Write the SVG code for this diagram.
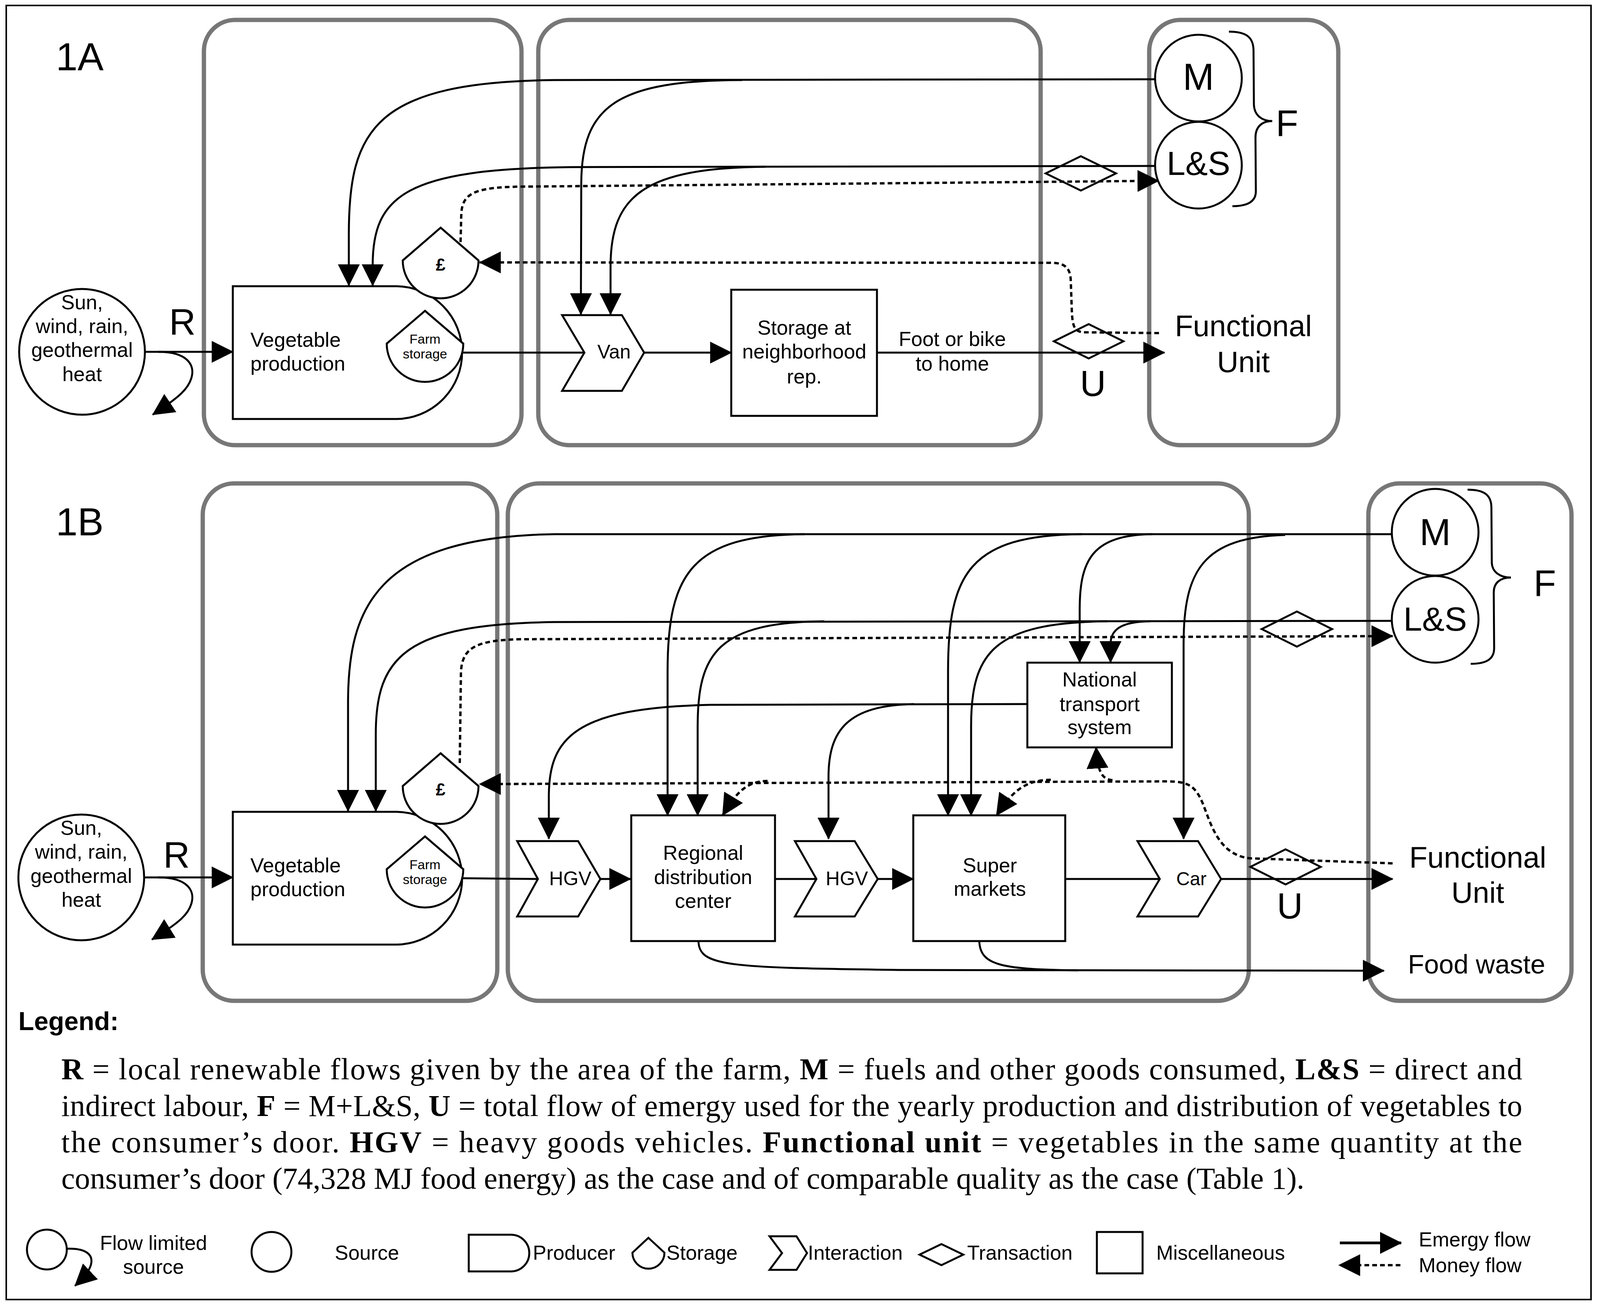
<svg xmlns="http://www.w3.org/2000/svg" width="4098" height="3342" viewBox="0 0 4098 3342">
<defs>
<style>
.bg{fill:#fff}
.frame{fill:none;stroke:#000;stroke-width:4}
.box{fill:none;stroke:#777;stroke-width:11}
.n{fill:#fff;stroke:#000;stroke-width:5;stroke-linejoin:miter}
.d{fill:none;stroke:#000;stroke-width:5}
.fl{fill:none;stroke:#000;stroke-width:5}
.mf{fill:none;stroke:#000;stroke-width:6;stroke-dasharray:12 8}
.t{font-family:"Liberation Sans",Arial,Helvetica,sans-serif;fill:#000}
.s52{font-size:52px}
.s34{font-size:34px}
.big{font-size:96px}
.fu{font-size:76px}
.c{text-anchor:middle}
.ser{font-family:"Liberation Serif","Times New Roman",serif;font-size:78px;fill:#000}
.b{font-weight:bold}
</style>
<marker id="ah" markerUnits="userSpaceOnUse" markerWidth="56" markerHeight="56" viewBox="0 0 56 56" refX="54" refY="28" orient="auto">
<path d="M0,0 L56,28 L0,56 Z" fill="#000"/>
</marker>
</defs>
<rect class="bg" x="0" y="0" width="4098" height="3342"/>
<rect class="frame" x="16" y="14" width="4057" height="3314"/>

<!-- ===== 1A ===== -->
<text class="t" x="143" y="180" font-size="100">1A</text>
<g id="boxA1"><rect class="box" x="522" y="51" width="813" height="1089" rx="80"/></g>
<g id="boxA2"><rect class="box" x="1378" y="51" width="1286" height="1089" rx="80"/></g>
<g id="boxA3"><rect class="box" x="2942" y="51" width="484" height="1089" rx="80"/></g>

<g id="connectorsA">
<path class="fl" d="M371,901 L596,901" marker-end="url(#ah)"/>
<path class="fl" d="M405,901 C480,901 500,935 490,968 C482,995 462,1015 391,1062" marker-end="url(#ah)"/>
<path class="fl" d="M2957,203 L1420,205 C960,210 893,330 893,600 L893,731" marker-end="url(#ah)"/>
<path class="fl" d="M2957,425 L1460,428 C1040,433 954,500 954,680 L954,731" marker-end="url(#ah)"/>
<path class="fl" d="M1900,205 C1580,206 1489,270 1488,470 L1487,805" marker-end="url(#ah)"/>
<path class="fl" d="M1960,427 C1650,430 1564,500 1563,680 L1563,805" marker-end="url(#ah)"/>
<path class="fl" d="M1183,903 L1496,903"/>
<path class="fl" d="M1649,903 L1872,903" marker-end="url(#ah)"/>
<path class="fl" d="M2245,903 L2981,903" marker-end="url(#ah)"/>
<path class="mf" d="M1179,620 L1181,545 C1185,495 1215,480 1330,478 L2966,463" marker-end="url(#ah)"/>
<path class="mf" d="M2967,853 L2775,851 C2750,850 2746,835 2744,800 L2741,715 C2739,685 2725,673 2690,673 L1228,672" marker-end="url(#ah)"/>
<path class="fl" d="M3146,81 C3190,81 3209,95 3209,130 L3210,268 C3211,295 3230,310 3257,310 C3230,310 3214,325 3214,352 L3215,490 C3215,515 3195,528 3155,528"/>
</g>

<g id="sunA">
<circle class="n" cx="210" cy="901" r="161"/>
<text class="t s52 c" x="210" y="792">Sun,</text>
<text class="t s52 c" x="210" y="853">wind, rain,</text>
<text class="t s52 c" x="210" y="914">geothermal</text>
<text class="t s52 c" x="210" y="976">heat</text>
</g>
<text class="t" x="433" y="857" font-size="94">R</text>
<g id="vegA">
<path class="n" d="M596,733 L1013,733 A170,170 0 0 1 1013,1073 L596,1073 Z"/>
<text class="t s52" x="641" y="888">Vegetable</text>
<text class="t s52" x="641" y="949">production</text>
</g>
<g id="farmstorageA">
<path class="n" d="M1088,796 L1186,880 A98,98 0 0 1 990,880 Z"/>
<text class="t s34 c" x="1088" y="880">Farm</text>
<text class="t s34 c" x="1088" y="918">storage</text>
</g>
<g id="moneyA">
<path class="n" d="M1128,583 L1225,667 A97,97 0 0 1 1031,667 Z"/>
<text class="t c b" x="1128" y="693" font-size="44">£</text>
</g>
<g id="vanA">
<path class="n" d="M1439,807 L1592,807 L1649,903 L1592,1001 L1439,1001 L1496,903 Z"/>
<text class="t c" x="1572" y="918" font-size="50">Van</text>
</g>
<g id="storageRepA">
<rect class="n" x="1872" y="742" width="373" height="323"/>
<text class="t s52 c" x="2059" y="857">Storage at</text>
<text class="t s52 c" x="2059" y="918">neighborhood</text>
<text class="t s52 c" x="2059" y="982">rep.</text>
</g>
<text class="t s52 c" x="2438" y="886">Foot or bike</text>
<text class="t s52 c" x="2438" y="949">to home</text>
<g id="transLSA"><path class="d" d="M2677,444 L2767,400 L2857,444 L2767,488 Z"/></g>
<g id="transUA"><path class="d" d="M2698,874 L2787,830 L2876,874 L2787,918 Z"/></g>
<text class="t c" x="2798" y="1014" font-size="92">U</text>
<g id="MA">
<circle class="n" cx="3068" cy="200" r="111"/>
<text class="t big c" x="3068" y="230">M</text>
</g>
<g id="LSA">
<circle class="n" cx="3068" cy="423" r="111"/>
<text class="t c" x="3068" y="448" font-size="86">L&amp;S</text>
</g>
<text class="t" x="3266" y="348" font-size="94">F</text>
<g id="fuA">
<text class="t fu c" x="3183" y="861">Functional</text>
<text class="t fu c" x="3183" y="953">Unit</text>
</g>

<!-- ===== 1B ===== -->
<text class="t" x="143" y="1371" font-size="100">1B</text>
<g id="boxB1"><rect class="box" x="519" y="1238" width="754" height="1325" rx="80"/></g>
<g id="boxB2"><rect class="box" x="1300" y="1238" width="1897" height="1325" rx="80"/></g>
<g id="boxB3"><rect class="box" x="3503" y="1238" width="520" height="1325" rx="80"/></g>

<g id="connectorsB">
<path class="fl" d="M369,2247 L596,2247" marker-end="url(#ah)"/>
<path class="fl" d="M405,2247 C480,2247 500,2281 490,2314 C482,2341 462,2361 389,2406" marker-end="url(#ah)"/>
<path class="fl" d="M3563,1368 L1420,1368 C960,1375 891,1560 891,1800 L891,2077" marker-end="url(#ah)"/>
<path class="fl" d="M3563,1590 L1420,1593 C1040,1598 962,1680 962,1880 L962,2077" marker-end="url(#ah)"/>
<path class="fl" d="M2060,1368 C1770,1370 1709,1470 1709,1720 L1709,2088" marker-end="url(#ah)"/>
<path class="fl" d="M2110,1591 C1840,1594 1786,1670 1786,1860 L1786,2088" marker-end="url(#ah)"/>
<path class="fl" d="M2770,1368 C2480,1370 2427,1470 2427,1720 L2427,2088" marker-end="url(#ah)"/>
<path class="fl" d="M2835,1591 C2545,1594 2486,1670 2486,1860 L2486,2088" marker-end="url(#ah)"/>
<path class="fl" d="M2950,1368 C2800,1370 2764,1430 2764,1560 L2764,1696" marker-end="url(#ah)"/>
<path class="fl" d="M2945,1591 C2870,1592 2843,1612 2843,1650 L2843,1696" marker-end="url(#ah)"/>
<path class="fl" d="M3290,1370 C3080,1376 3030,1460 3030,1650 L3030,2148" marker-end="url(#ah)"/>
<path class="fl" d="M2630,1803 L1820,1805 C1470,1812 1405,1890 1405,2040 L1405,2148" marker-end="url(#ah)"/>
<path class="fl" d="M2340,1803 C2170,1806 2121,1870 2121,1990 L2121,2148" marker-end="url(#ah)"/>
<path class="fl" d="M1183,2249 L1377,2251"/>
<path class="fl" d="M1537,2251 L1614,2251" marker-end="url(#ah)"/>
<path class="fl" d="M1984,2251 L2090,2251"/>
<path class="fl" d="M2247,2251 L2338,2251" marker-end="url(#ah)"/>
<path class="fl" d="M2727,2251 L2969,2251"/>
<path class="fl" d="M3126,2251 L3565,2251" marker-end="url(#ah)"/>
<path class="fl" d="M1788,2410 C1790,2475 1860,2478 2300,2484 L3543,2486" marker-end="url(#ah)"/>
<path class="fl" d="M2507,2410 C2509,2475 2570,2482 2760,2485"/>
<path class="mf" d="M1177,1954 L1180,1720 C1184,1660 1215,1640 1330,1637 L3565,1629" marker-end="url(#ah)"/>
<path class="mf" d="M3565,2211 L3200,2198 C3120,2190 3100,2110 3080,2060 C3060,2010 3040,2002 2990,2001 L1228,2008" marker-end="url(#ah)"/>
<path class="mf" d="M1965,2000 C1910,2001 1885,2030 1850,2088" marker-end="url(#ah)"/>
<path class="mf" d="M2690,1997 C2620,1998 2590,2030 2551,2088" marker-end="url(#ah)"/>
<path class="mf" d="M2848,1998 C2820,1996 2810,1975 2806,1914" marker-end="url(#ah)"/>
<path class="fl" d="M3757,1254 C3800,1254 3818,1268 3818,1300 L3819,1441 C3820,1465 3840,1479 3868,1479 C3840,1479 3824,1493 3824,1517 L3825,1660 C3825,1688 3805,1700 3765,1700"/>
</g>

<g id="sunB">
<circle class="n" cx="208" cy="2247" r="161"/>
<text class="t s52 c" x="208" y="2138">Sun,</text>
<text class="t s52 c" x="208" y="2199">wind, rain,</text>
<text class="t s52 c" x="208" y="2261">geothermal</text>
<text class="t s52 c" x="208" y="2322">heat</text>
</g>
<text class="t" x="418" y="2222" font-size="94">R</text>
<g id="vegB">
<path class="n" d="M596,2079 L1013,2079 A170,170 0 0 1 1013,2419 L596,2419 Z"/>
<text class="t s52" x="641" y="2234">Vegetable</text>
<text class="t s52" x="641" y="2295">production</text>
</g>
<g id="farmstorageB">
<path class="n" d="M1088,2142 L1186,2226 A98,98 0 0 1 990,2226 Z"/>
<text class="t s34 c" x="1088" y="2226">Farm</text>
<text class="t s34 c" x="1088" y="2264">storage</text>
</g>
<g id="moneyB">
<path class="n" d="M1128,1929 L1225,2013 A97,97 0 0 1 1031,2013 Z"/>
<text class="t c b" x="1128" y="2037" font-size="44">£</text>
</g>
<g id="hgv1B">
<path class="n" d="M1324,2154 L1480,2154 L1537,2251 L1480,2347 L1324,2347 L1377,2251 Z"/>
<text class="t c" x="1460" y="2267" font-size="50">HGV</text>
</g>
<g id="regionalB">
<rect class="n" x="1616" y="2088" width="368" height="322"/>
<text class="t s52 c" x="1800" y="2202">Regional</text>
<text class="t s52 c" x="1800" y="2264">distribution</text>
<text class="t s52 c" x="1800" y="2325">center</text>
</g>
<g id="hgv2B">
<path class="n" d="M2035,2154 L2188,2154 L2247,2251 L2188,2347 L2035,2347 L2090,2251 Z"/>
<text class="t c" x="2168" y="2267" font-size="50">HGV</text>
</g>
<g id="superB">
<rect class="n" x="2338" y="2088" width="389" height="322"/>
<text class="t s52 c" x="2534" y="2234">Super</text>
<text class="t s52 c" x="2534" y="2294">markets</text>
</g>
<g id="ntsB">
<rect class="n" x="2630" y="1697" width="370" height="217"/>
<text class="t s52 c" x="2815" y="1758">National</text>
<text class="t s52 c" x="2815" y="1821">transport</text>
<text class="t s52 c" x="2815" y="1880">system</text>
</g>
<g id="carB">
<path class="n" d="M2912,2154 L3067,2154 L3126,2251 L3067,2347 L2912,2347 L2969,2251 Z"/>
<text class="t c" x="3050" y="2267" font-size="48">Car</text>
</g>
<g id="transLSB"><path class="d" d="M3230,1611 L3320,1566 L3410,1611 L3320,1656 Z"/></g>
<g id="transUB"><path class="d" d="M3201,2220 L3291,2175 L3381,2220 L3291,2265 Z"/></g>
<text class="t c" x="3302" y="2352" font-size="92">U</text>
<g id="MB">
<circle class="n" cx="3674" cy="1363" r="111"/>
<text class="t big c" x="3674" y="1396">M</text>
</g>
<g id="LSB">
<circle class="n" cx="3674" cy="1586" r="111"/>
<text class="t c" x="3674" y="1615" font-size="86">L&amp;S</text>
</g>
<text class="t" x="3926" y="1526" font-size="94">F</text>
<g id="fuB">
<text class="t fu c" x="3783" y="2222">Functional</text>
<text class="t fu c" x="3783" y="2312">Unit</text>
<text class="t c" x="3780" y="2493" font-size="68">Food waste</text>
</g>

<!-- ===== Legend ===== -->
<g id="legendText">
<text class="t b" x="47" y="2638" font-size="66">Legend:</text>
<text class="ser" x="157" y="2764" textLength="3740" lengthAdjust="spacing"><tspan class="b">R</tspan> = local renewable flows given by the area of the farm, <tspan class="b">M</tspan> = fuels and other goods consumed, <tspan class="b">L&amp;S</tspan> = direct and</text>
<text class="ser" x="157" y="2858" textLength="3740" lengthAdjust="spacing">indirect labour, <tspan class="b">F</tspan> = M+L&amp;S, <tspan class="b">U</tspan> = total flow of emergy used for the yearly production and distribution of vegetables to</text>
<text class="ser" x="157" y="2951" textLength="3740" lengthAdjust="spacing">the consumer’s door. <tspan class="b">HGV</tspan> = heavy goods vehicles. <tspan class="b">Functional unit</tspan> = vegetables in the same quantity at the</text>
<text class="ser" x="157" y="3044">consumer’s door (74,328 MJ food energy) as the case and of comparable quality as the case (Table 1).</text>
</g>

<g id="legendSymbols">
<g id="lgFlowLimited">
<circle class="n" cx="120" cy="3200" r="51"/>
<path class="fl" d="M170,3198 C215,3196 236,3210 234,3232 C233,3245 225,3262 192,3293" marker-end="url(#ah)"/>
<text class="t s52 c" x="393" y="3201">Flow limited</text>
<text class="t s52 c" x="393" y="3262">source</text>
</g>
<g id="lgSource">
<circle class="n" cx="695" cy="3206" r="51"/>
<text class="t s52" x="857" y="3226">Source</text>
</g>
<g id="lgProducer">
<path class="n" d="M1200,3162 L1308,3162 A47,47 0 0 1 1308,3256 L1200,3256 Z"/>
<text class="t s52" x="1364" y="3226">Producer</text>
</g>
<g id="lgStorage">
<path class="n" d="M1660,3170 L1701,3208 A41,41 0 0 1 1619,3208 Z"/>
<text class="t s52" x="1706" y="3226">Storage</text>
</g>
<g id="lgInteraction">
<path class="n" d="M1970,3166 L2039,3166 L2066,3209 L2039,3252 L1970,3252 L2002,3209 Z"/>
<text class="t s52" x="2068" y="3226">Interaction</text>
</g>
<g id="lgTransaction">
<path class="d" d="M2354,3213 L2410,3186 L2466,3213 L2410,3240 Z"/>
<text class="t s52" x="2476" y="3226">Transaction</text>
</g>
<g id="lgMisc">
<rect class="n" x="2808" y="3155" width="117" height="106"/>
<text class="t s52" x="2960" y="3226">Miscellaneous</text>
</g>
<g id="lgFlows">
<path class="fl" style="stroke-width:7" d="M3430,3183 L3587,3183" marker-end="url(#ah)"/>
<path class="mf" d="M3585,3240 L3428,3240" marker-end="url(#ah)"/>
<text class="t s52" x="3632" y="3192">Emergy flow</text>
<text class="t s52" x="3632" y="3258">Money flow</text>
</g>
</g>
</svg>
